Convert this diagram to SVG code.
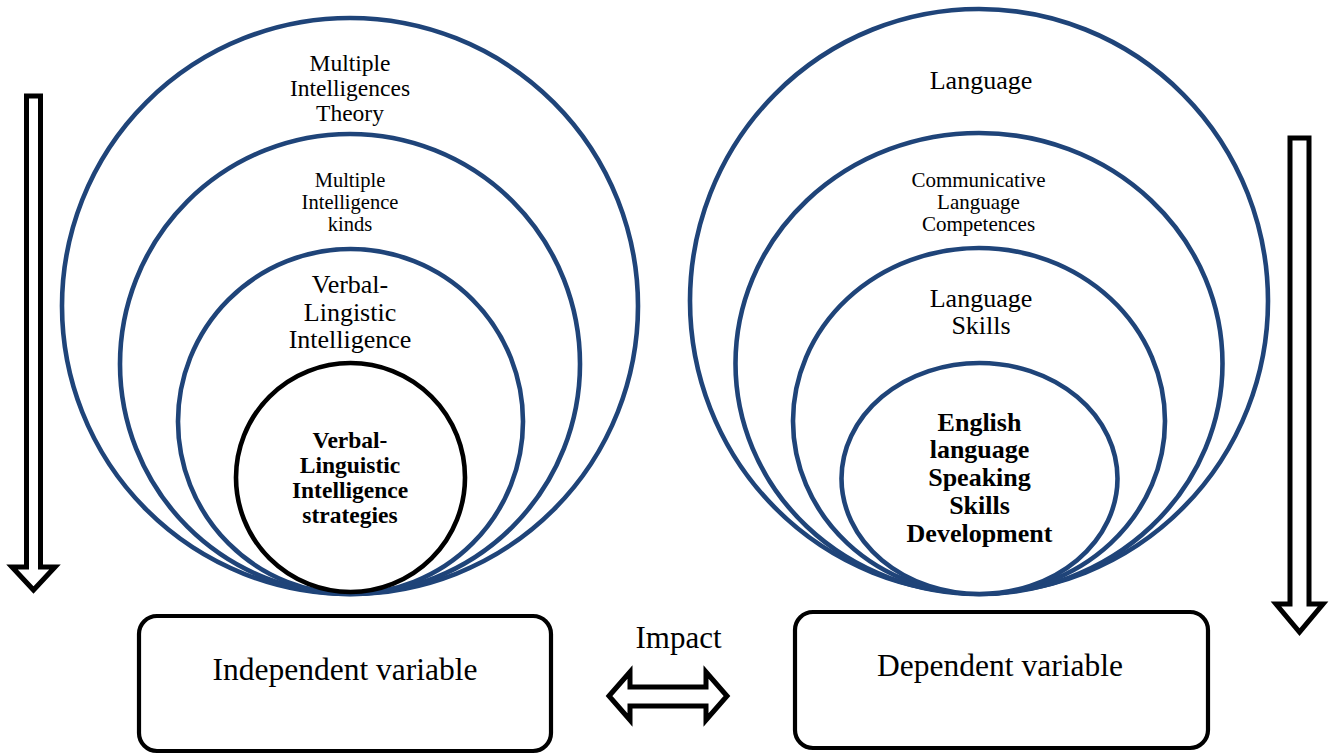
<svg xmlns="http://www.w3.org/2000/svg" width="1334" height="754" viewBox="0 0 1334 754">
<style>
.c{fill:#fff;stroke:#1f4479;stroke-width:4.6}
.k{fill:#fff;stroke:#000;stroke-width:4.6}
.box{fill:#fff;stroke:#000;stroke-width:4.2}
.ar{fill:#fff;stroke:#000;stroke-width:5;stroke-linejoin:miter}
text{font-family:"Liberation Serif","Times New Roman",serif;fill:#000;text-anchor:middle}
.b{font-weight:bold}
</style>
<rect width="1334" height="754" fill="#fff"/>
<g id="left-circles">
<g id="mi-theory"><circle class="c" cx="350" cy="306" r="288"/>
<text font-size="23.5"><tspan x="350" y="71">Multiple</tspan><tspan x="350" y="96">Intelligences</tspan><tspan x="350" y="121">Theory</tspan></text></g>
<g id="mi-kinds"><circle class="c" cx="350" cy="364" r="230"/>
<text font-size="20.5"><tspan x="350" y="186.5">Multiple</tspan><tspan x="350" y="209">Intelligence</tspan><tspan x="350" y="231">kinds</tspan></text></g>
<g id="vl-intelligence"><circle class="c" cx="350.5" cy="421.5" r="172.5"/>
<text font-size="26"><tspan x="350" y="293">Verbal-</tspan><tspan x="350" y="320.5">Lingistic</tspan><tspan x="350" y="348">Intelligence</tspan></text></g>
<g id="vl-strategies"><circle class="k" cx="350.5" cy="477.5" r="114.5"/>
<text class="b" font-size="23.5"><tspan x="350" y="447.5">Verbal-</tspan><tspan x="350" y="473">Linguistic</tspan><tspan x="350" y="498">Intelligence</tspan><tspan x="350" y="523">strategies</tspan></text></g>
</g>
<g id="right-circles">
<g id="language"><ellipse class="c" cx="979" cy="301" rx="289" ry="292"/>
<text font-size="26"><tspan x="981" y="89">Language</tspan></text></g>
<g id="clc"><ellipse class="c" cx="979" cy="363.5" rx="243.5" ry="230.5"/>
<text font-size="21"><tspan x="978.5" y="186.5">Communicative</tspan><tspan x="978.5" y="209">Language</tspan><tspan x="978.5" y="231">Competences</tspan></text></g>
<g id="skills"><ellipse class="c" cx="979" cy="421" rx="186" ry="173"/>
<text font-size="26"><tspan x="981" y="306.5">Language</tspan><tspan x="981" y="334">Skills</tspan></text></g>
<g id="speaking"><ellipse class="c" cx="979.5" cy="478.5" rx="138" ry="115.5"/>
<text class="b" font-size="26"><tspan x="979.5" y="430.5">English</tspan><tspan x="979.5" y="458">language</tspan><tspan x="979.5" y="486">Speaking</tspan><tspan x="979.5" y="514">Skills</tspan><tspan x="979.5" y="541.5">Development</tspan></text></g>
</g>
<g id="independent"><rect class="box" x="139" y="616" width="412" height="135" rx="18"/>
<text font-size="31.5" x="345" y="680">Independent variable</text></g>
<g id="dependent"><rect class="box" x="795" y="612" width="413" height="136" rx="18"/>
<text font-size="31.5" x="1000" y="676">Dependent variable</text></g>
<g id="connectors">
<polygon class="ar" points="26.5,96 40.5,96 40.5,567 55,567 33.5,590 12,567 26.5,567"/>
<polygon class="ar" points="1290,138 1309,138 1309,604 1323,604 1299.5,632 1276,604 1290,604"/>
<polygon class="ar" points="609,696 630,672 630,687 706,687 706,672 727,696 706,720 706,706 630,706 630,720"/>
<text font-size="31" x="678.5" y="648">Impact</text>
</g>
</svg>
